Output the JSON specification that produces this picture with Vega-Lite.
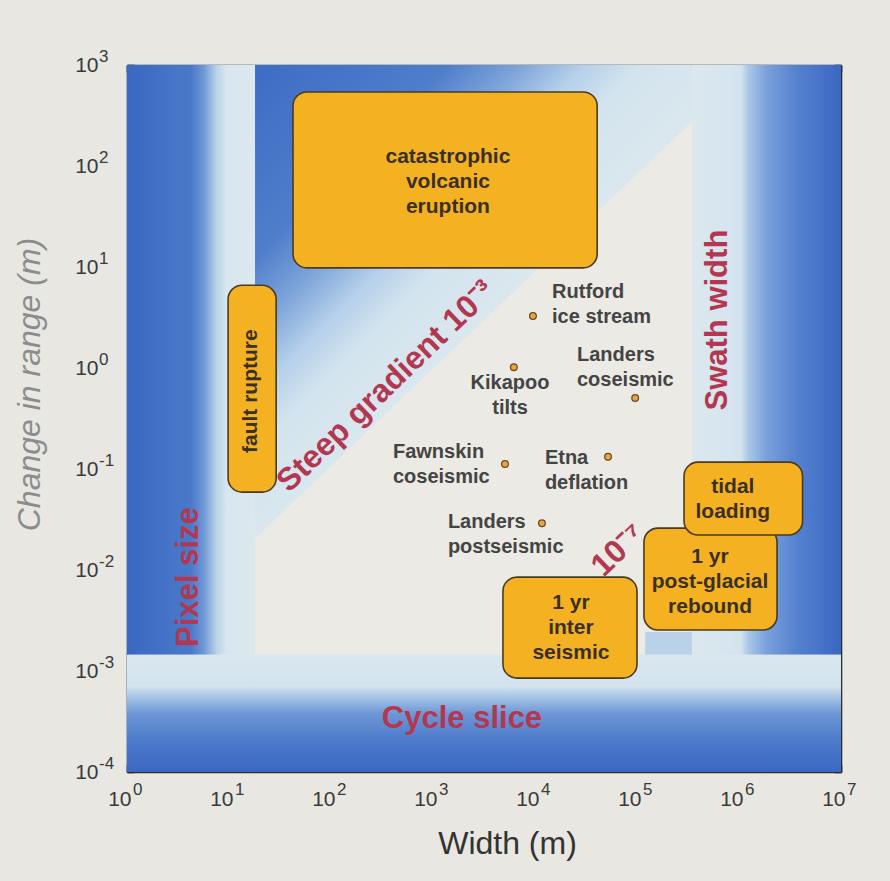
{
  "$schema": "https://vega.github.io/schema/vega-lite/v6.json",
  "width": 714,
  "height": 707,
  "autosize": {"type": "none"},
  "padding": {"left": 127, "top": 65, "right": 49, "bottom": 109},
  "background": "#e8e7e1",
  "config": {
    "view": {"stroke": null},
    "font": "Liberation Sans",
    "axis": {"grid": false, "domainColor": "#2e2e2e", "domainWidth": 1.6, "tickColor": "#2e2e2e", "tickWidth": 1.6, "tickSize": -7, "labelFont": "Liberation Sans", "labelFontSize": 21, "labelColor": "#3a3a3a", "labelFlush": false, "zindex": 1}
  },
  "resolve": {"axis": {"x": "independent", "y": "independent"}},
  "layer": [
    {
      "data": {"values": [{"x": 1, "x2": 18, "y": 0.00145, "y2": 1000}]},
      "mark": {"type": "rect", "strokeWidth": 0, "fill": {"gradient": "linear", "x1": 0, "y1": 0, "x2": 1, "y2": 0, "stops": [
        {"offset": 0, "color": "#3a68c2"}, {"offset": 0.5, "color": "#4b79c9"}, {"offset": 0.6, "color": "#6f98d5"}, {"offset": 0.7, "color": "#b9d3ea"}, {"offset": 0.78, "color": "#d8e6ee"}, {"offset": 1, "color": "#dce8ee"}]}},
      "encoding": {
        "x": {"field": "x", "type": "quantitative", "scale": {"type": "log", "domain": [1, 10000000], "nice": false},
          "axis": {"orient": "bottom", "values": [1, 10, 100, 1000, 10000, 100000, 1000000, 10000000], "labelExpr": "'10'", "labelAlign": "right", "labelOffset": 4, "labelPadding": 23, "title": "Width (m)", "titleFontSize": 32, "titleFontWeight": "normal", "titleColor": "#333333", "titleX": 380, "titleY": 71, "titleBaseline": "middle", "titleAlign": "center"}},
        "x2": {"field": "x2"},
        "y": {"field": "y", "type": "quantitative", "scale": {"type": "log", "domain": [0.0001, 1000], "nice": false},
          "axis": {"orient": "left", "values": [0.0001, 0.001, 0.01, 0.1, 1, 10, 100, 1000], "labelExpr": "'10'", "labelPadding": 36, "title": "Change in range (m)", "titleFontSize": 32, "titleFontWeight": "normal", "titleFontStyle": "italic", "titleColor": "#8c8c8c", "titleX": -98, "titleY": 319, "titleBaseline": "middle", "titleAlign": "center", "titleAngle": 270}},
        "y2": {"field": "y2"}
      }
    },
    {
      "data": {"values": [{"x": 18, "x2": 345000, "y": 0.00145, "y2": 1000}]},
      "mark": {"type": "rect", "strokeWidth": 0, "fill": {"gradient": "linear", "x1": 0, "y1": 0, "x2": 0.393, "y2": 0.531, "stops": [
        {"offset": 0, "color": "#3d6cc5"}, {"offset": 0.4, "color": "#4f7ecb"}, {"offset": 0.55, "color": "#7ea5da"}, {"offset": 0.68, "color": "#b5d0ea"}, {"offset": 0.8, "color": "#d3e4ee"}, {"offset": 1, "color": "#dae7ee"}]}},
      "encoding": {
        "x": {"field": "x", "type": "quantitative", "scale": {"type": "log", "domain": [1, 10000000], "nice": false},
          "axis": {"orient": "top", "values": [1, 10, 100, 1000, 10000, 100000, 1000000, 10000000], "labels": false, "title": null}},
        "x2": {"field": "x2"},
        "y": {"field": "y", "type": "quantitative", "scale": {"type": "log", "domain": [0.0001, 1000], "nice": false},
          "axis": {"orient": "right", "values": [0.0001, 0.001, 0.01, 0.1, 1, 10, 100, 1000], "labels": false, "title": null}},
        "y2": {"field": "y2"}
      }
    },
    {
      "data": {"values": [{"x": 345000, "x2": 10000000, "y": 0.00145, "y2": 1000}]},
      "mark": {"type": "rect", "strokeWidth": 0, "fill": {"gradient": "linear", "x1": 0, "y1": 0, "x2": 1, "y2": 0, "stops": [
        {"offset": 0, "color": "#dce8ee"}, {"offset": 0.33, "color": "#d3e3ee"}, {"offset": 0.38, "color": "#a9c7e7"}, {"offset": 0.5, "color": "#7aa1db"}, {"offset": 0.7, "color": "#5582cf"}, {"offset": 1, "color": "#3a67c2"}]}},
      "encoding": {
        "x": {"field": "x", "type": "quantitative", "scale": {"type": "log", "domain": [1, 10000000], "nice": false}, "axis": null},
        "x2": {"field": "x2"},
        "y": {"field": "y", "type": "quantitative", "scale": {"type": "log", "domain": [0.0001, 1000], "nice": false}, "axis": null},
        "y2": {"field": "y2"}
      }
    },
    {
      "data": {"values": [{"x": 18, "y": 0.0205, "ylo": 0.00145}, {"x": 345000, "y": 275, "ylo": 0.00145}]},
      "mark": {"type": "area", "color": "#ebeae4", "interpolate": "linear"},
      "encoding": {
        "x": {"field": "x", "type": "quantitative", "scale": {"type": "log", "domain": [1, 10000000], "nice": false}, "axis": null},
        "y": {"field": "y", "type": "quantitative", "scale": {"type": "log", "domain": [0.0001, 1000], "nice": false}, "axis": null},
        "y2": {"field": "ylo"}
      }
    },
    {
      "data": {"values": [{"x": 120000, "x2": 345000, "y": 0.00145, "y2": 0.00243}]},
      "mark": {"type": "rect", "strokeWidth": 0, "color": "#b9d2ea"},
      "encoding": {
        "x": {"field": "x", "type": "quantitative", "scale": {"type": "log", "domain": [1, 10000000], "nice": false}, "axis": null},
        "x2": {"field": "x2"},
        "y": {"field": "y", "type": "quantitative", "scale": {"type": "log", "domain": [0.0001, 1000], "nice": false}, "axis": null},
        "y2": {"field": "y2"}
      }
    },
    {
      "data": {"values": [{"x": 1, "x2": 10000000, "y": 0.0001, "y2": 0.00145}]},
      "mark": {"type": "rect", "strokeWidth": 0, "fill": {"gradient": "linear", "x1": 0, "y1": 0, "x2": 0, "y2": 1, "stops": [
        {"offset": 0, "color": "#d9e7ee"}, {"offset": 0.27, "color": "#d3e3ee"}, {"offset": 0.36, "color": "#a6c5e6"}, {"offset": 0.5, "color": "#6e97d5"}, {"offset": 0.72, "color": "#4e7ccb"}, {"offset": 1, "color": "#3a67c2"}]}},
      "encoding": {
        "x": {"field": "x", "type": "quantitative", "scale": {"type": "log", "domain": [1, 10000000], "nice": false}, "axis": null},
        "x2": {"field": "x2"},
        "y": {"field": "y", "type": "quantitative", "scale": {"type": "log", "domain": [0.0001, 1000], "nice": false}, "axis": null},
        "y2": {"field": "y2"}
      }
    },
    {
      "data": {"values": [{"label": "Pixel size", "x": 4.05, "y": 0.0085}, {"label": "Swath width", "x": 620000, "y": 2.98}]},
      "mark": {"type": "text", "angle": 270, "align": "center", "baseline": "middle", "font": "Liberation Sans", "fontWeight": "bold", "fontSize": 31, "color": "#b33750"},
      "encoding": {
        "x": {"field": "x", "type": "quantitative", "scale": {"type": "log", "domain": [1, 10000000], "nice": false}, "axis": null},
        "y": {"field": "y", "type": "quantitative", "scale": {"type": "log", "domain": [0.0001, 1000], "nice": false}, "axis": null},
        "text": {"field": "label"}
      }
    },
    {
      "data": {"values": [{"label": "Cycle slice", "x": 1923, "y": 0.000335}]},
      "mark": {"type": "text", "align": "center", "baseline": "middle", "font": "Liberation Sans", "fontWeight": "bold", "fontSize": 31, "color": "#b33750"},
      "encoding": {
        "x": {"field": "x", "type": "quantitative", "scale": {"type": "log", "domain": [1, 10000000], "nice": false}, "axis": null},
        "y": {"field": "y", "type": "quantitative", "scale": {"type": "log", "domain": [0.0001, 1000], "nice": false}, "axis": null},
        "text": {"field": "label"}
      }
    },
    {
      "data": {"values": [{"label": "Steep gradient 10⁻³", "x": 345, "y": 0.66}, {"label": "10⁻⁷", "x": 65200, "y": 0.0158}]},
      "mark": {"type": "text", "angle": -44, "align": "center", "baseline": "middle", "font": "Liberation Sans", "fontWeight": "bold", "fontSize": 32, "color": "#b33750"},
      "encoding": {
        "x": {"field": "x", "type": "quantitative", "scale": {"type": "log", "domain": [1, 10000000], "nice": false}, "axis": null},
        "y": {"field": "y", "type": "quantitative", "scale": {"type": "log", "domain": [0.0001, 1000], "nice": false}, "axis": null},
        "text": {"field": "label"}
      }
    },
    {
      "data": {"values": [
        {"event": "catastrophic volcanic eruption", "x": 42.4, "x2": 40700, "y": 9.8, "y2": 541},
        {"event": "fault rupture", "x": 9.8, "x2": 29, "y": 0.059, "y2": 6.6},
        {"event": "1 yr inter seismic", "x": 4850, "x2": 100000, "y": 0.00085, "y2": 0.0085},
        {"event": "1 yr post-glacial rebound", "x": 117000, "x2": 2360000, "y": 0.00255, "y2": 0.026},
        {"event": "tidal loading", "x": 289000, "x2": 4200000, "y": 0.0222, "y2": 0.117}
      ]},
      "mark": {"type": "rect", "fill": "#f4b223", "stroke": "#4a3a22", "strokeWidth": 1.6, "cornerRadius": 14},
      "encoding": {
        "x": {"field": "x", "type": "quantitative", "scale": {"type": "log", "domain": [1, 10000000], "nice": false}, "axis": null},
        "x2": {"field": "x2"},
        "y": {"field": "y", "type": "quantitative", "scale": {"type": "log", "domain": [0.0001, 1000], "nice": false}, "axis": null},
        "y2": {"field": "y2"}
      }
    },
    {
      "data": {"values": [
        {"label": "catastrophic\nvolcanic\neruption", "x": 1400, "y": 122.8},
        {"label": "tidal\nloading", "x": 870000, "y": 0.0664},
        {"label": "1 yr\npost-glacial\nrebound", "x": 520000, "y": 0.01346},
        {"label": "1 yr\ninter\nseismic", "x": 22500, "y": 0.00471}
      ]},
      "mark": {"type": "text", "align": "center", "baseline": "middle", "lineBreak": "\n", "lineHeight": 25, "font": "Liberation Sans", "fontWeight": "bold", "fontSize": 21, "color": "#3b3020"},
      "encoding": {
        "x": {"field": "x", "type": "quantitative", "scale": {"type": "log", "domain": [1, 10000000], "nice": false}, "axis": null},
        "y": {"field": "y", "type": "quantitative", "scale": {"type": "log", "domain": [0.0001, 1000], "nice": false}, "axis": null},
        "text": {"field": "label"}
      }
    },
    {
      "data": {"values": [{"label": "fault rupture", "x": 16.4, "y": 0.59}]},
      "mark": {"type": "text", "angle": 270, "align": "center", "baseline": "middle", "font": "Liberation Sans", "fontWeight": "bold", "fontSize": 21, "color": "#3b3020"},
      "encoding": {
        "x": {"field": "x", "type": "quantitative", "scale": {"type": "log", "domain": [1, 10000000], "nice": false}, "axis": null},
        "y": {"field": "y", "type": "quantitative", "scale": {"type": "log", "domain": [0.0001, 1000], "nice": false}, "axis": null},
        "text": {"field": "label"}
      }
    },
    {
      "data": {"values": [
        {"site": "Rutford ice stream", "x": 9550, "y": 3.27},
        {"site": "Kikapoo tilts", "x": 6200, "y": 1.02},
        {"site": "Landers coseismic", "x": 96000, "y": 0.505},
        {"site": "Fawnskin coseismic", "x": 5080, "y": 0.112},
        {"site": "Etna deflation", "x": 52000, "y": 0.132},
        {"site": "Landers postseismic", "x": 11700, "y": 0.029}
      ]},
      "mark": {"type": "point", "shape": "circle", "filled": true, "size": 45, "fill": "#eaa63c", "stroke": "#6a4a2a", "strokeWidth": 1.3, "opacity": 1},
      "encoding": {
        "x": {"field": "x", "type": "quantitative", "scale": {"type": "log", "domain": [1, 10000000], "nice": false}, "axis": null},
        "y": {"field": "y", "type": "quantitative", "scale": {"type": "log", "domain": [0.0001, 1000], "nice": false}, "axis": null}
      }
    },
    {
      "data": {"values": [
        {"label": "Rutford\nice stream", "x": 14700, "y": 5.65},
        {"label": "Landers\ncoseismic", "x": 25800, "y": 1.35},
        {"label": "Fawnskin\ncoseismic", "x": 405, "y": 0.147},
        {"label": "Etna\ndeflation", "x": 12500, "y": 0.1285},
        {"label": "Landers\npostseismic", "x": 1400, "y": 0.0299}
      ]},
      "mark": {"type": "text", "align": "left", "baseline": "middle", "lineBreak": "\n", "lineHeight": 25, "font": "Liberation Sans", "fontWeight": "bold", "fontSize": 20, "color": "#444444"},
      "encoding": {
        "x": {"field": "x", "type": "quantitative", "scale": {"type": "log", "domain": [1, 10000000], "nice": false}, "axis": null},
        "y": {"field": "y", "type": "quantitative", "scale": {"type": "log", "domain": [0.0001, 1000], "nice": false}, "axis": null},
        "text": {"field": "label"}
      }
    },
    {
      "data": {"values": [{"label": "Kikapoo\ntilts", "x": 5690, "y": 0.71}]},
      "mark": {"type": "text", "align": "center", "baseline": "middle", "lineBreak": "\n", "lineHeight": 25, "font": "Liberation Sans", "fontWeight": "bold", "fontSize": 20, "color": "#444444"},
      "encoding": {
        "x": {"field": "x", "type": "quantitative", "scale": {"type": "log", "domain": [1, 10000000], "nice": false}, "axis": null},
        "y": {"field": "y", "type": "quantitative", "scale": {"type": "log", "domain": [0.0001, 1000], "nice": false}, "axis": null},
        "text": {"field": "label"}
      }
    },
    {
      "data": {"values": [
        {"tick": 1, "exp": "0"}, {"tick": 10, "exp": "1"}, {"tick": 100, "exp": "2"}, {"tick": 1000, "exp": "3"},
        {"tick": 10000, "exp": "4"}, {"tick": 100000, "exp": "5"}, {"tick": 1000000, "exp": "6"}, {"tick": 10000000, "exp": "7"}
      ]},
      "mark": {"type": "text", "align": "left", "baseline": "middle", "dx": 6, "dy": 18, "font": "Liberation Sans", "fontSize": 17, "color": "#3a3a3a"},
      "encoding": {
        "x": {"field": "tick", "type": "quantitative", "scale": {"type": "log", "domain": [1, 10000000], "nice": false}, "axis": null},
        "y": {"datum": 0.0001, "type": "quantitative", "scale": {"type": "log", "domain": [0.0001, 1000], "nice": false}, "axis": null},
        "text": {"field": "exp"}
      }
    },
    {
      "data": {"values": [
        {"tick": 0.0001, "exp": "-4"}, {"tick": 0.001, "exp": "-3"}, {"tick": 0.01, "exp": "-2"}, {"tick": 0.1, "exp": "-1"},
        {"tick": 1, "exp": "0"}, {"tick": 10, "exp": "1"}, {"tick": 100, "exp": "2"}, {"tick": 1000, "exp": "3"}
      ]},
      "mark": {"type": "text", "align": "left", "baseline": "middle", "dx": -28, "dy": -8, "font": "Liberation Sans", "fontSize": 17, "color": "#3a3a3a"},
      "encoding": {
        "x": {"datum": 1, "type": "quantitative", "scale": {"type": "log", "domain": [1, 10000000], "nice": false}, "axis": null},
        "y": {"field": "tick", "type": "quantitative", "scale": {"type": "log", "domain": [0.0001, 1000], "nice": false}, "axis": null},
        "text": {"field": "exp"}
      }
    }
  ]
}
